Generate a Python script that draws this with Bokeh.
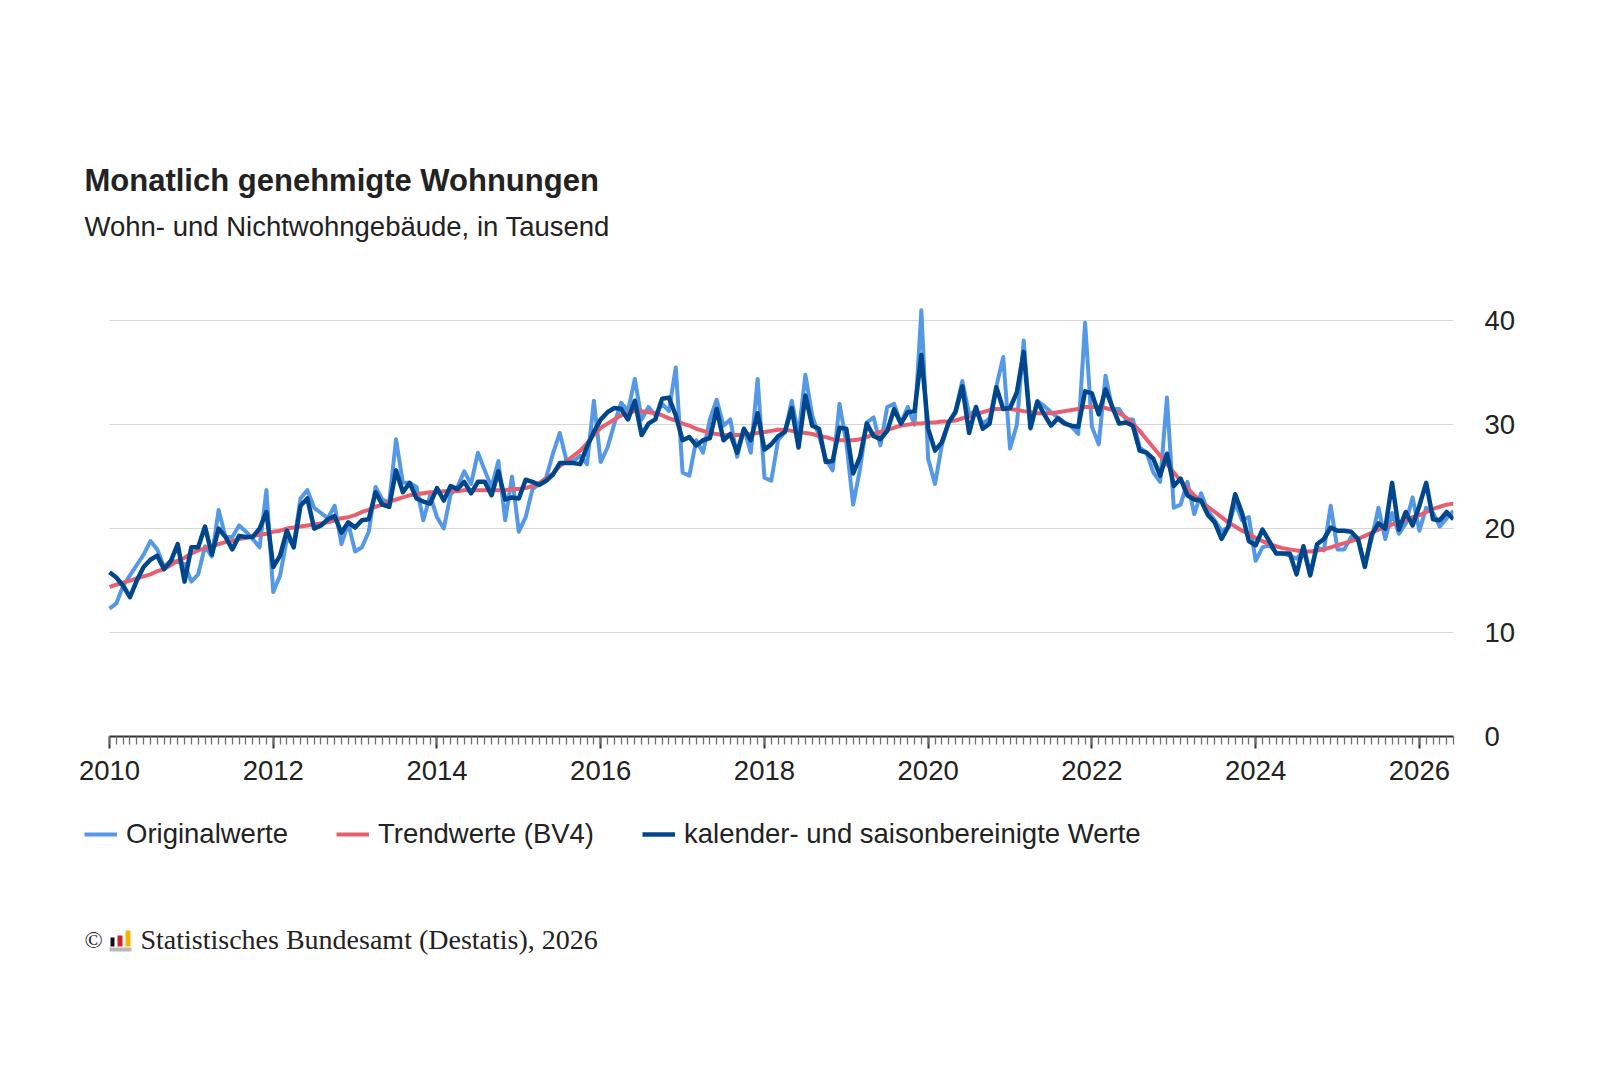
from bokeh.plotting import figure
from bokeh.layouts import column
from bokeh.models import Range1d, FixedTicker, Legend, LegendItem
from bokeh.embed import file_html
from bokeh.resources import INLINE
from bokeh.core.properties import value

# ---------------- data ----------------
title_text = "Monatlich genehmigte Wohnungen"
subtitle_text = "Wohn- und Nichtwohngebäude, in Tausend"
source_text = "Statistisches Bundesamt (Destatis), 2026"
copyright_text = "©"
series_names = ["Originalwerte", "Trendwerte (BV4)", "kalender- und saisonbereinigte Werte"]

start_year = 2010
tick_years = [2010, 2012, 2014, 2016, 2018, 2020, 2022, 2024, 2026]
tick_labels = [str(y) for y in tick_years]
y_ticks = [0, 10, 20, 30, 40]
y_grid = [10, 20, 30, 40]

# monthly values, Jan 2010 .. Jun 2026 (thousand dwellings)
originalwerte = [
    12.3, 12.8, 14.5, 15.5, 16.5, 17.5, 18.8, 18.0, 16.3, 16.9, 16.8, 16.6,   # 2010
    14.9, 15.6, 18.3, 17.3, 21.8, 19.2, 19.2, 20.3, 19.7, 19.0, 18.2, 23.7,   # 2011
    13.9, 15.5, 19.0, 18.5, 22.9, 23.7, 22.0, 21.5, 21.0, 22.2, 18.5, 20.5,   # 2012
    17.8, 18.2, 19.7, 24.0, 22.8, 22.5, 28.6, 24.4, 24.4, 24.0, 20.8, 23.2,   # 2013
    21.1, 20.0, 23.3, 24.0, 25.5, 24.3, 27.3, 25.6, 24.0, 26.5, 20.8, 25.0,   # 2014
    19.7, 21.1, 23.8, 24.3, 24.9, 27.2, 29.2, 26.5, 26.5, 27.0, 26.2, 32.3,   # 2015
    26.4, 27.8, 30.1, 32.1, 31.3, 34.4, 30.5, 31.7, 30.9, 32.0, 31.3, 35.5,   # 2016
    25.4, 25.1, 28.5, 27.3, 30.5, 32.4, 29.9, 30.5, 26.9, 29.6, 27.3, 34.4,   # 2017
    24.9, 24.6, 28.5, 29.3, 32.3, 29.0, 34.8, 30.9, 28.9, 26.7, 25.6, 32.0,   # 2018
    28.3, 22.3, 25.7, 30.2, 30.7, 28.0, 31.7, 32.0, 30.1, 31.7, 30.0, 41.0,   # 2019
    26.7, 24.3, 28.0, 30.2, 31.3, 34.2, 31.0, 31.3, 30.1, 30.6, 33.7, 36.5,   # 2020
    27.7, 30.0, 38.1, 29.6, 32.3, 31.8, 31.2, 30.7, 30.2, 29.8, 29.1, 39.8,   # 2021
    29.8, 28.1, 34.7, 31.5, 31.5, 30.5, 30.5, 27.8, 27.3, 25.4, 24.5, 32.6,   # 2022
    22.0, 22.3, 24.5, 21.4, 23.4, 21.7, 20.8, 19.8, 20.1, 22.5, 20.8, 21.1,   # 2023
    16.9, 18.2, 18.4, 17.7, 17.6, 17.4, 17.1, 17.9, 15.6, 18.2, 17.9, 22.2,   # 2024
    18.0, 18.0, 19.2, 19.0, 16.6, 19.0, 22.0, 19.0, 21.5, 19.5, 20.5, 23.0,   # 2025
    19.8, 22.0, 21.5, 20.2, 21.0, 21.7,                                       # 2026
]

trendwerte = [
    14.4, 14.6, 14.8, 15.0, 15.2, 15.4, 15.6, 15.9, 16.1, 16.5, 16.9, 17.2,
    17.6, 17.9, 18.1, 18.3, 18.5, 18.7, 18.8, 19.0, 19.1, 19.3, 19.4, 19.5,
    19.7, 19.8, 20.0, 20.1, 20.2, 20.3, 20.4, 20.5, 20.6, 20.8, 21.0, 21.1,
    21.3, 21.6, 21.8, 22.1, 22.3, 22.6, 22.8, 23.0, 23.2, 23.3, 23.4, 23.5,
    23.5, 23.6, 23.6, 23.6, 23.7, 23.7, 23.7, 23.7, 23.7, 23.7, 23.7, 23.8,
    23.8, 23.9, 24.1, 24.4, 24.8, 25.3, 26.0, 26.5, 27.0, 27.5, 28.2, 29.0,
    29.7, 30.1, 30.5, 30.9, 31.1, 31.3, 31.3, 31.2, 31.1, 30.9, 30.6, 30.4,
    30.1, 29.9, 29.6, 29.4, 29.2, 29.1, 29.0, 29.0, 29.0, 29.0, 29.1, 29.2,
    29.3, 29.4, 29.5, 29.5, 29.4, 29.3, 29.2, 29.1, 28.9, 28.8, 28.6, 28.5,
    28.5, 28.5, 28.6, 28.8, 29.1, 29.3, 29.5, 29.7, 29.9, 30.0, 30.1, 30.1,
    30.2, 30.2, 30.3, 30.3, 30.4, 30.6, 30.8, 31.0, 31.2, 31.4, 31.5, 31.5,
    31.5, 31.4, 31.3, 31.2, 31.1, 31.1, 31.1, 31.2, 31.3, 31.4, 31.5, 31.7,
    31.7, 31.7, 31.6, 31.4, 31.1, 30.7, 30.1, 29.4, 28.6, 27.8, 27.0, 26.2,
    25.4, 24.6, 23.9, 23.2, 22.6, 22.1, 21.6, 21.1, 20.6, 20.2, 19.8, 19.5,
    19.1, 18.8, 18.5, 18.3, 18.1, 18.0, 17.9, 17.8, 17.8, 17.9, 18.0, 18.2,
    18.4, 18.6, 18.8, 19.0, 19.3, 19.6, 19.9, 20.1, 20.4, 20.6, 20.8, 21.1,
    21.3, 21.6, 21.9, 22.1, 22.3, 22.4,
]

bereinigt = [
    15.8, 15.3, 14.5, 13.4, 15.0, 16.3, 17.0, 17.4, 16.1, 16.9, 18.5, 14.9,
    18.2, 18.2, 20.2, 17.5, 20.0, 19.2, 18.0, 19.3, 19.2, 19.2, 20.0, 21.6,
    16.3, 17.4, 19.8, 18.2, 22.2, 22.9, 20.0, 20.3, 20.9, 21.2, 19.6, 20.6,
    20.1, 20.8, 20.9, 23.5, 22.3, 22.1, 25.6, 23.5, 24.4, 22.9, 22.6, 22.4,
    23.9, 22.7, 24.1, 23.8, 24.5, 23.4, 24.5, 24.5, 23.2, 25.5, 22.8, 23.0,
    22.9, 24.7, 24.5, 24.2, 24.6, 25.2, 26.3, 26.3, 26.3, 26.2, 27.9, 29.3,
    30.5, 31.2, 31.6, 31.5, 30.5, 32.3, 29.0, 30.1, 30.5, 32.5, 32.6, 30.9,
    28.5, 28.8, 28.0, 28.5, 28.7, 31.5, 28.5, 29.1, 27.3, 29.6, 28.5, 31.1,
    27.6, 28.1, 28.9, 29.3, 31.6, 27.8, 32.8, 29.9, 29.6, 26.4, 26.5, 29.7,
    29.6, 25.3, 26.9, 30.1, 28.9, 28.6, 29.4, 31.5, 30.1, 31.2, 31.3, 36.7,
    29.6, 27.5, 28.3, 30.2, 31.2, 33.7, 29.2, 31.7, 29.6, 30.1, 33.6, 31.5,
    31.6, 33.1, 37.0, 29.7, 32.2, 31.0, 29.9, 30.6, 30.1, 29.9, 29.8, 33.2,
    33.0, 31.0, 33.4, 31.7, 30.1, 30.2, 29.9, 27.5, 27.3, 26.7, 25.1, 27.2,
    24.1, 24.8, 23.2, 22.8, 22.7, 21.3, 20.6, 19.0, 20.2, 23.3, 21.5, 18.8,
    18.4, 19.9, 18.8, 17.6, 17.6, 17.6, 15.6, 18.3, 15.5, 18.5, 19.0, 20.1,
    19.8, 19.8, 19.7, 19.0, 16.3, 19.4, 20.5, 20.0, 24.4, 19.9, 21.6, 20.3,
    22.2, 24.4, 20.9, 20.8, 21.6, 20.9,
]

assert len(originalwerte) == len(trendwerte) == len(bereinigt)

# month index since January of start_year
months = list(range(len(originalwerte)))
year_ticks = [(y - start_year) * 12 for y in tick_years]

# ---------------- style / layout ----------------
W = 1584
HDR_H, MAIN_H, FTR_H = 278, 522, 200
FL, FR = 109, 1453                 # first / last month position (px)
RB = W - FR                        # right border shared by all figures
M_TOP, M_BOTTOM = 11, 64           # main figure borders
Y0, Y1 = 0, 43

C_ORIG = "#5598e6"
C_TREND = "#e8606f"
C_SA = "#00468c"
C_TEXT = "#222222"
C_GRID = "#d6d6d6"
SANS = "Liberation Sans"
SERIF = "Liberation Serif"
LW_ORIG, LW_TREND, LW_SA = 4, 4, 4.5


def blank(height):
    f = figure(width=W, height=height, output_backend="svg", toolbar_location=None,
               x_range=Range1d(0, FR), y_range=Range1d(height, 0),
               x_axis_location=None, y_axis_location=None,
               min_border_left=0, min_border_right=RB,
               min_border_top=0, min_border_bottom=0, outline_line_color=None,
               background_fill_color="white", border_fill_color="white")
    f.grid.visible = False
    return f


# ---------------- header ----------------
hdr = blank(HDR_H)
hdr.text(x=[84], y=[180], text=[title_text], text_font=value(SANS), text_font_size="31px",
         text_font_style="bold", text_color=C_TEXT, text_align="left",
         text_baseline="alphabetic")
hdr.text(x=[84], y=[226], text=[subtitle_text], text_font=value(SANS),
         text_font_size="27.5px", text_color=C_TEXT, text_align="left",
         text_baseline="alphabetic")

# ---------------- main chart ----------------
px_per_month = (FR - FL) / (months[-1] - months[0])
x_start = months[0] - FL / px_per_month

p = figure(width=W, height=MAIN_H, output_backend="svg", toolbar_location=None,
           x_range=Range1d(x_start, months[-1]), y_range=Range1d(Y0, Y1),
           y_axis_location="right",
           min_border_left=0, min_border_right=RB,
           min_border_top=M_TOP, min_border_bottom=M_BOTTOM,
           outline_line_color=None,
           background_fill_color="white", border_fill_color="white")

xa = p.xaxis[0]
xa.bounds = (months[0], months[-1])
xa.ticker = FixedTicker(ticks=year_ticks, minor_ticks=months)
xa.major_label_overrides = {t: lab for t, lab in zip(year_ticks, tick_labels)}
xa.axis_line_color = "#333333"
xa.axis_line_width = 2
xa.major_tick_line_color = "#333333"
xa.major_tick_line_width = 2
xa.major_tick_in = 0
xa.major_tick_out = 12
xa.minor_tick_in = 0
xa.minor_tick_out = 8
xa.minor_tick_line_color = "#6e6e6e"
xa.minor_tick_line_width = 1.3
xa.major_label_text_font = SANS
xa.major_label_text_font_size = "27.5px"
xa.major_label_text_color = C_TEXT
xa.major_label_standoff = 12

ya = p.yaxis[0]
ya.ticker = FixedTicker(ticks=y_ticks)
ya.axis_line_color = None
ya.major_tick_line_color = None
ya.major_tick_in = 0
ya.major_tick_out = 0
ya.minor_tick_line_color = None
ya.major_label_text_font = SANS
ya.major_label_text_font_size = "27.5px"
ya.major_label_text_color = C_TEXT
ya.major_label_standoff = 31

p.xgrid.visible = False
yg = p.ygrid[0]
yg.ticker = FixedTicker(ticks=y_grid)
yg.grid_line_color = C_GRID
yg.grid_line_width = 1
if "cross_bounds" in yg.properties():
    yg.cross_bounds = (months[0], months[-1])
else:
    yg.visible = False
    p.segment(x0=months[0], x1=months[-1], y0=y_grid, y1=y_grid,
              line_color=C_GRID, line_width=1, level="underlay")

p.line(months, originalwerte, line_color=C_ORIG, line_width=LW_ORIG, line_join="round")
p.line(months, trendwerte, line_color=C_TREND, line_width=LW_TREND, line_join="round")
p.line(months, bereinigt, line_color=C_SA, line_width=LW_SA, line_join="round")

# ---------------- footer: legend + source ----------------
ftr = blank(FTR_H)
# legend key renderers: styled like the chart lines, placed outside the visible area
off = [-50, -40]
k_orig = ftr.line(x=off, y=off, line_color=C_ORIG, line_width=LW_ORIG)
k_trend = ftr.line(x=off, y=off, line_color=C_TREND, line_width=LW_TREND)
k_sa = ftr.line(x=off, y=off, line_color=C_SA, line_width=LW_SA)

LEG_H = 32
legend = Legend(items=[LegendItem(label=series_names[0], renderers=[k_orig]),
                       LegendItem(label=series_names[1], renderers=[k_trend]),
                       LegendItem(label=series_names[2], renderers=[k_sa])],
                orientation="horizontal", location=(84, FTR_H - (34 - LEG_H // 2) - LEG_H),
                label_text_font=SANS, label_text_font_size="27.5px",
                label_text_color=C_TEXT, glyph_width=33, glyph_height=LEG_H,
                label_height=LEG_H, label_standoff=9, spacing=48, padding=0, margin=0,
                border_line_color=None, background_fill_alpha=0)
ftr.add_layout(legend)

ftr.text(x=[84], y=[139], text=[copyright_text], text_font=value(SERIF),
         text_font_size="24px", text_color=C_TEXT, text_align="left",
         text_baseline="alphabetic")
# Destatis logo (decorative)
logo_left = [110, 117, 125, 109]
logo_right = [114, 122, 130, 131]
logo_top = [137, 135, 130, 147]
logo_bottom = [146, 146, 146, 151]
logo_color = ["#111111", "#d4202c", "#f2b600", "#b8b8b8"]
ftr.quad(left=logo_left, right=logo_right, top=logo_top, bottom=logo_bottom,
         fill_color=logo_color, line_color=None)
ftr.text(x=[140], y=[139], text=[source_text], text_font=value(SERIF),
         text_font_size="28px", text_color=C_TEXT, text_align="left",
         text_baseline="alphabetic")

layout = column(hdr, p, ftr, spacing=0)
open("out.html", "w").write(file_html(layout, INLINE))
